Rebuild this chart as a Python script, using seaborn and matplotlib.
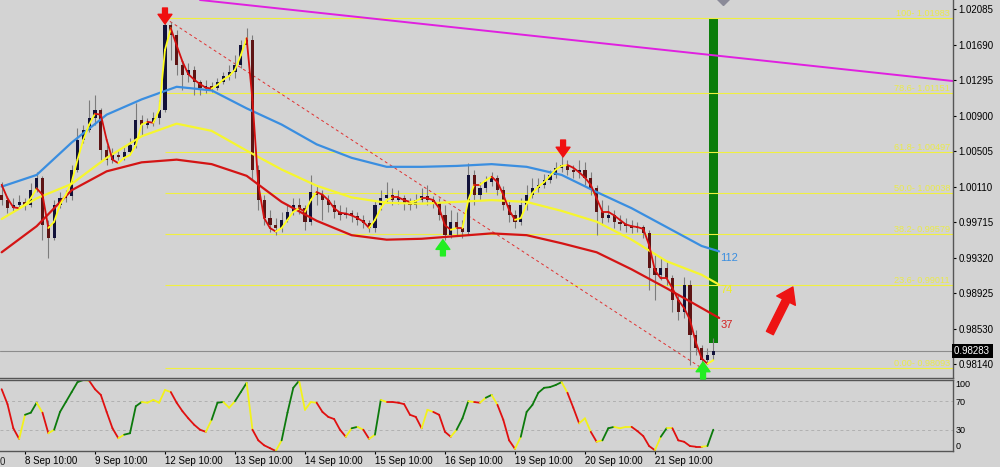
import matplotlib
matplotlib.use("Agg")
import matplotlib.pyplot as plt
import matplotlib.transforms as mtransforms
import seaborn as sns
import numpy as np
import pandas as pd

# H2 bars, x = hours counted from 8 Sep 10:00 (weekends skipped)
bar_hours = np.arange(-8, 238, 2)

opens = [1.0002, 0.9996, 0.9987, 0.9991, 0.9994, 0.9991, 1.0007, 1.0021, 0.9968, 0.9954,
         0.9991, 0.9998, 1.0001, 1.0030, 1.0063, 1.0074, 1.0087, 1.0096, 1.0052, 1.0041,
         1.0046, 1.0044, 1.0050, 1.0057, 1.0085, 1.0080, 1.0083, 1.0087, 1.0096, 1.0191,
         1.0180, 1.0146, 1.0135, 1.0141, 1.0127, 1.0121, 1.0123, 1.0121, 1.0127, 1.0134,
         1.0138, 1.0146, 1.0168, 1.0174, 1.0030, 0.9996, 0.9976, 0.9968, 0.9965, 0.9974,
         0.9983, 0.9991, 0.9987, 0.9972, 1.0005, 1.0002, 0.9996, 0.9991, 0.9983, 0.9979,
         0.9982, 0.9978, 0.9974, 0.9971, 0.9965, 0.9991, 0.9998, 1.0002, 0.9996, 0.9998,
         0.9993, 0.9991, 0.9996, 1.0001, 0.9996, 0.9993, 0.9979, 0.9957, 0.9972, 0.9965,
         0.9961, 1.0024, 1.0002, 1.0009, 1.0016, 1.0021, 1.0007, 0.9991, 0.9979, 0.9972,
         0.9991, 1.0002, 1.0009, 1.0013, 1.0018, 1.0024, 1.0032, 1.0035, 1.0030, 1.0027,
         1.0030, 1.0021, 1.0009, 0.9983, 0.9976, 0.9979, 0.9972, 0.9969, 0.9967, 0.9965,
         0.9966, 0.9959, 0.9921, 0.9913, 0.9921, 0.9909, 0.9885, 0.9872, 0.9902, 0.9846,
         0.9832, 0.9818, 0.9824]
highs = [1.0016, 1.0001, 0.9998, 1.0002, 0.9998, 1.0015, 1.0027, 1.0023, 0.9974, 0.9996,
         1.0005, 1.0007, 1.0035, 1.0076, 1.0080, 1.0107, 1.0113, 1.0098, 1.0057, 1.0054,
         1.0052, 1.0056, 1.0065, 1.0104, 1.0091, 1.0087, 1.0094, 1.0107, 1.01983, 1.0194,
         1.0185, 1.0152, 1.0148, 1.0145, 1.0130, 1.0130, 1.0127, 1.0132, 1.0138, 1.0146,
         1.0157, 1.0174, 1.0187, 1.0180, 1.0035, 1.0002, 0.9985, 0.9976, 0.9983, 0.9991,
         0.9998, 0.9998, 0.9991, 1.0024, 1.0013, 1.0007, 1.0002, 0.9996, 0.9991, 0.9988,
         0.9985, 0.9983, 0.9979, 0.9974, 0.9996, 1.0007, 1.0016, 1.0009, 1.0007, 1.0002,
         0.9998, 1.0003, 1.0009, 1.0013, 1.0001, 0.9998, 0.9991, 0.9985, 0.9983, 0.9974,
         1.0037, 1.0030, 1.0016, 1.0023, 1.0027, 1.0024, 1.0012, 0.9996, 0.9985, 0.9998,
         1.0013, 1.0021, 1.0021, 1.0025, 1.0030, 1.0038, 1.0046, 1.0041, 1.0035, 1.0041,
         1.0038, 1.0027, 1.0013, 0.9996, 0.9991, 0.9985, 0.9979, 0.9976, 0.9974, 0.9972,
         0.9968, 0.9963, 0.9935, 0.9932, 0.9927, 0.9913, 0.9891, 0.9911, 0.9907, 0.9852,
         0.9835, 0.9832, 0.9843]
lows = [0.9991, 0.9982, 0.9983, 0.9987, 0.9985, 0.9988, 1.0005, 0.9952, 0.9932, 0.9952,
        0.9987, 0.9994, 0.9996, 1.0027, 1.0060, 1.0072, 1.0080, 1.0041, 1.0035, 1.0037,
        1.0041, 1.0041, 1.0046, 1.0054, 1.0068, 1.0076, 1.0078, 1.0081, 1.0094, 1.0152,
        1.0135, 1.0118, 1.0127, 1.0113, 1.0113, 1.0115, 1.0116, 1.0118, 1.0125, 1.0130,
        1.0132, 1.0143, 1.0165, 1.0018, 0.9985, 0.9968, 0.9961, 0.9957, 0.9961, 0.9972,
        0.9979, 0.9981, 0.9963, 0.9968, 0.9991, 0.9974, 0.9983, 0.9976, 0.9974, 0.9976,
        0.9972, 0.9968, 0.9965, 0.9961, 0.9961, 0.9985, 0.9993, 0.9991, 0.9992, 0.9985,
        0.9985, 0.9987, 0.9994, 0.9991, 0.9987, 0.9974, 0.9952, 0.9954, 0.9957, 0.9954,
        0.9957, 0.9991, 0.9996, 1.0005, 1.0012, 1.0002, 0.9985, 0.9972, 0.9965, 0.9968,
        0.9985, 0.9998, 1.0005, 1.0009, 1.0015, 1.0021, 1.0027, 1.0024, 1.0021, 1.0021,
        1.0013, 1.0002, 0.9957, 0.9968, 0.9972, 0.9965, 0.9963, 0.9961, 0.9959, 0.9961,
        0.9954, 0.9896, 0.9885, 0.9907, 0.9902, 0.9872, 0.9863, 0.9865, 0.9813, 0.9824,
        0.98093, 0.9814, 0.9818]
closes = [0.9996, 0.9987, 0.9991, 0.9994, 0.9991, 1.0007, 1.0021, 0.9968, 0.9954, 0.9991,
          0.9998, 1.0001, 1.0030, 1.0063, 1.0074, 1.0087, 1.0096, 1.0052, 1.0041, 1.0046,
          1.0044, 1.0050, 1.0057, 1.0085, 1.0080, 1.0083, 1.0087, 1.0096, 1.0191, 1.0180,
          1.0146, 1.0135, 1.0141, 1.0127, 1.0121, 1.0123, 1.0121, 1.0127, 1.0134, 1.0138,
          1.0146, 1.0168, 1.0174, 1.0030, 0.9996, 0.9976, 0.9968, 0.9965, 0.9974, 0.9983,
          0.9991, 0.9987, 0.9972, 1.0005, 1.0002, 0.9996, 0.9991, 0.9983, 0.9979, 0.9982,
          0.9978, 0.9974, 0.9971, 0.9965, 0.9991, 0.9998, 1.0002, 0.9996, 0.9998, 0.9993,
          0.9991, 0.9996, 1.0001, 0.9996, 0.9993, 0.9979, 0.9957, 0.9972, 0.9965, 0.9961,
          1.0024, 1.0002, 1.0009, 1.0016, 1.0021, 1.0007, 0.9991, 0.9979, 0.9972, 0.9991,
          1.0002, 1.0009, 1.0013, 1.0018, 1.0024, 1.0032, 1.0035, 1.0030, 1.0027, 1.0030,
          1.0021, 1.0009, 0.9983, 0.9976, 0.9979, 0.9972, 0.9969, 0.9967, 0.9965, 0.9966,
          0.9959, 0.9921, 0.9913, 0.9921, 0.9909, 0.9885, 0.9872, 0.9902, 0.9846, 0.9832,
          0.9818, 0.9824, 0.98283]

# fast MA (yellow when rising, red when falling)
fast_ma = [1.0013, 0.9998, 0.9988, 0.9987, 0.9991, 0.9998, 1.0009, 1.0002, 0.9965, 0.9972,
           0.9991, 1.0002, 1.0016, 1.0041, 1.0063, 1.0080, 1.0092, 1.0091, 1.0063, 1.0041,
           1.0037, 1.0043, 1.0046, 1.0057, 1.0080, 1.0083, 1.0082, 1.0096, 1.0163, 1.0187,
           1.0168, 1.0150, 1.0136, 1.0130, 1.0125, 1.0121, 1.0120, 1.0124, 1.0130, 1.0134,
           1.0141, 1.0157, 1.0176, 1.0107, 1.0013, 0.9976, 0.9965, 0.9961, 0.9965, 0.9974,
           0.9983, 0.9987, 0.9983, 0.9996, 1.0005, 1.0002, 0.9996, 0.9987, 0.9982, 0.9981,
           0.9979, 0.9976, 0.9972, 0.9965, 0.9974, 0.9987, 0.9996, 0.9999, 0.9999, 0.9996,
           0.9994, 0.9995, 0.9998, 0.9998, 0.9996, 0.9987, 0.9968, 0.9963, 0.9965, 0.9965,
           0.9996, 1.0013, 1.0013, 1.0018, 1.0022, 1.0016, 1.0002, 0.9985, 0.9974, 0.9976,
           0.9991, 1.0004, 1.0011, 1.0016, 1.0023, 1.0030, 1.0034, 1.0035, 1.0032, 1.0027,
           1.0021, 1.0013, 0.9998, 0.9983, 0.9983, 0.9979, 0.9974, 0.9969, 0.9967, 0.9966,
           0.9964, 0.9946, 0.9918, 0.9909, 0.9909, 0.9898, 0.9885, 0.9876, 0.9863, 0.9838,
           0.9820, 0.9814, 0.9818]

# slow moving averages, sampled every 12 hours
ma_hours = [-8, 4, 16, 28, 40, 52, 64, 76, 88, 100, 112, 124, 136, 148, 160, 172, 184,
            196, 208, 220, 232, 238]
ma112 = [1.0011, 1.0024, 1.0060, 1.0091, 1.0108, 1.0122, 1.0118, 1.0098, 1.0080, 1.0058,
         1.0043, 1.0033, 1.0033, 1.0034, 1.0036, 1.0033, 1.0024, 1.0005, 0.9987, 0.9966,
         0.9945, 0.9939]
ma74 = [0.9975, 0.9998, 1.0014, 1.0043, 1.0067, 1.0081, 1.0073, 1.0051, 1.0030, 1.0012,
        0.9999, 0.9993, 0.9992, 0.9994, 0.9996, 0.9994, 0.9984, 0.9972, 0.9952, 0.9928,
        0.9913, 0.9902]
ma37 = [0.9938, 0.9967, 1.0007, 1.0028, 1.0038, 1.0041, 1.0036, 1.0023, 0.9994, 0.9973,
        0.9957, 0.9952, 0.9953, 0.9956, 0.9959, 0.9957, 0.9948, 0.9938, 0.9919, 0.9898,
        0.9876, 0.9865]

# oscillator, one value per bar
osc = [87, 66, 32, 17, 51, 54, 68, 54, 25, 30,
       55, 69, 83, 97, 100, 99, 87, 79, 55, 32,
       18, 23, 25, 63, 69, 68, 72, 68, 86, 83,
       68, 56, 46, 37, 30, 27, 44, 68, 69, 61,
       70, 83, 96, 30, 15, 8, 4, 0, 15, 54,
       89, 99, 58, 69, 68, 55, 48, 45, 30, 20,
       32, 34, 30, 17, 23, 72, 69, 69, 68, 66,
       51, 48, 32, 58, 55, 51, 27, 20, 30, 46,
       70, 69, 68, 75, 79, 65, 44, 15, 3, 20,
       55, 65, 82, 89, 90, 93, 97, 82, 61, 39,
       46, 27, 13, 15, 32, 34, 32, 34, 34, 28,
       21, 7, 1, 20, 32, 32, 15, 13, 7, 6,
       6, 7, 30]

fib_levels = [1.01983, 1.01151, 1.00497, 1.00038, 0.99579, 0.99011, 0.98093]
fib_names = ["100-", "78.6-", "61.8-", "50.0-", "38.2-", "23.6-", "0.00-"]
fib_start = 48

price_ticks = [1.02085, 1.01690, 1.01295, 1.00900, 1.00505, 1.00110, 0.99715,
               0.99320, 0.98925, 0.98530, 0.98140]
date_ticks = [0, 24, 48, 72, 96, 120, 144, 168, 192, 216]
date_labels = ["8 Sep 10:00", "9 Sep 10:00", "12 Sep 10:00", "13 Sep 10:00",
               "14 Sep 10:00", "15 Sep 10:00", "16 Sep 10:00", "19 Sep 10:00",
               "20 Sep 10:00", "21 Sep 10:00"]
last_price = 0.98283

BG = "#d3d3d3"
sns.set_theme(style="ticks", rc={"axes.facecolor": BG, "figure.facecolor": BG})
plt.rcParams["font.family"] = ["Liberation Sans", "DejaVu Sans"]

fig = plt.figure(figsize=(10, 4.67), dpi=100)
ax = fig.add_axes([0, 1 - 378 / 467, 0.953, 378 / 467])
ax2 = fig.add_axes([0, 16 / 467, 0.953, 71 / 467], sharex=ax)

x_lo, x_hi = -8.57, 318.2
ax.set_xlim(x_lo, x_hi)
ax.set_ylim(0.97982, 1.02185)

df = pd.DataFrame({"h": bar_hours, "open": opens, "high": highs,
                   "low": lows, "close": closes})
up = df["close"] >= df["open"]

# green range bar from the fib top down (behind the candles)
ax.bar(236.05, 1.01983 - 0.98371, bottom=0.98371, width=3.1,
       color="#0a7d0a", edgecolor="none", linewidth=0, zorder=1)

# fib levels
ax.hlines(fib_levels, fib_start, x_hi, color="#f0f040", lw=0.8, zorder=1, snap=True)
for name, lvl in zip(fib_names, fib_levels):
    ax.text(x_hi - 1, lvl + 0.00003, f"{name} {lvl:.5f}", ha="right", va="bottom",
            fontsize=6.6, color="#eaea4a", zorder=2)

# current price line
ax.axhline(last_price, color="#8c8c8c", lw=0.8, zorder=1)

# trend lines
ax.plot([60, x_hi], [1.02185, 1.01284], color="#e020e0", lw=1.4, zorder=2)
ax.plot([48, 232], [1.01983, 0.98093], color="#e03030", lw=0.7,
        ls=(0, (3, 3)), zorder=2)

# candles
ax.vlines(df["h"], df["low"], df["high"], color="#7c7c7c", lw=0.8, zorder=3)
ax.bar(df["h"][up], (df["close"] - df["open"])[up], bottom=df["open"][up],
       width=1.1, color="#12123a", edgecolor="none", linewidth=0, zorder=4)
ax.bar(df["h"][~up], (df["close"] - df["open"])[~up], bottom=df["open"][~up],
       width=1.1, color="#5e1414", edgecolor="none", linewidth=0, zorder=4)

# moving averages
sns.lineplot(x=ma_hours, y=ma112, color="#3a8ee0", lw=1.6, ax=ax, zorder=5)
sns.lineplot(x=ma_hours, y=ma74, color="#f6f62e", lw=1.6, ax=ax, zorder=5)
sns.lineplot(x=ma_hours, y=ma37, color="#d41414", lw=1.6, ax=ax, zorder=5)
for k in range(len(bar_hours) - 1):
    col = "#ffff1e" if fast_ma[k + 1] > fast_ma[k] else "#d40f0f"
    ax.plot(bar_hours[k:k + 2], fast_ma[k:k + 2], color=col, lw=1.3, zorder=6)

ax.text(238.3, 0.99316, "112", color="#3a8ee0", fontsize=8, va="center")
ax.text(238.3, 0.98960, "74", color="#eeee22", fontsize=8, va="center")
ax.text(238.6, 0.98570, "37", color="#d42020", fontsize=8, va="center")


def signal_arrow(x, tip, tail, color):
    ax.annotate("", xy=(x, tip), xytext=(x, tail), zorder=7,
                arrowprops=dict(arrowstyle="simple,head_length=0.7,head_width=1.0,tail_width=0.35",
                                color=color, shrinkA=0, shrinkB=0, mutation_scale=10))


signal_arrow(48, 1.01918, 1.02096, "#f01010")
signal_arrow(184.5, 1.00440, 1.00628, "#f01010")
signal_arrow(143.3, 0.99520, 0.99340, "#22ee22")
signal_arrow(232.5, 0.98160, 0.97970, "#22ee22")

# big red arrow
ax.annotate("", xy=(263.3, 0.98994), xytext=(255.4, 0.98482), zorder=7,
            arrowprops=dict(arrowstyle="simple,head_length=1.1,head_width=1.5,tail_width=0.55",
                            color="#ee1414", shrinkA=0, shrinkB=0, mutation_scale=10))

ax.plot([239.3], [1.02195], marker="D", ms=6, color="#8a8a98", zorder=7)

# axes styling, main panel
ax.yaxis.tick_right()
ax.set_yticks(price_ticks)
ax.set_yticklabels([f"{p:.5f}" for p in price_ticks])
ax.tick_params(axis="y", right=True, length=2.5, width=0.8, pad=1.5,
               labelsize=7, colors="black")
ax.tick_params(axis="x", bottom=False, labelbottom=False)
for side in ["top", "left"]:
    ax.spines[side].set_visible(False)
for side in ["right", "bottom"]:
    ax.spines[side].set_color("#555555")
    ax.spines[side].set_linewidth(1.0)
ax.set_xlabel("")
ax.set_ylabel("")

ax.text(1.001, last_price, "0.98283 ", transform=mtransforms.blended_transform_factory(ax.transAxes, ax.transData),
        ha="left", va="center", fontsize=7, color="white", clip_on=False,
        bbox=dict(facecolor="black", edgecolor="none", pad=1.2))

# oscillator panel
ax2.set_ylim(0, 100)
ax2.axhline(70, color="#b0b0b0", lw=0.7, ls=(0, (3, 3)))
ax2.axhline(30, color="#b0b0b0", lw=0.7, ls=(0, (3, 3)))
prev = None
for k in range(len(osc) - 1):
    rising = osc[k + 1] > osc[k]
    col = "#0c7a0c" if rising else "#e01010"
    if prev is not None and rising != prev:
        col = "#f2f21a"
    prev = rising
    ax2.plot(bar_hours[k:k + 2], osc[k:k + 2], color=col, lw=1.3)

ax2.yaxis.tick_right()
ax2.set_yticks([0, 30, 70, 100])
ax2.set_yticklabels(["0", "30", "70", "100"])
ax2.tick_params(axis="y", length=0, pad=2, labelsize=6.5, colors="black")
ylabs = ax2.get_yticklabels()
ylabs[0].set_va("bottom")
ylabs[-1].set_va("top")
ax2.set_xticks(date_ticks)
ax2.set_xticklabels(date_labels, ha="left")
ax2.tick_params(axis="x", length=2, width=0.8, pad=1.5, labelsize=7, colors="black")
# the reference shows only the tail of the previous day's label at the left edge
ax2.text(0.0, -0.08, "0", transform=ax2.transAxes,
         ha="left", va="top", fontsize=7, clip_on=False)
ax2.spines["left"].set_visible(False)
for side in ["top", "right", "bottom"]:
    ax2.spines[side].set_color("#555555")
    ax2.spines[side].set_linewidth(1.0)
ax2.set_xlim(x_lo, x_hi)

fig.savefig("out.png", dpi=100, facecolor=BG)
